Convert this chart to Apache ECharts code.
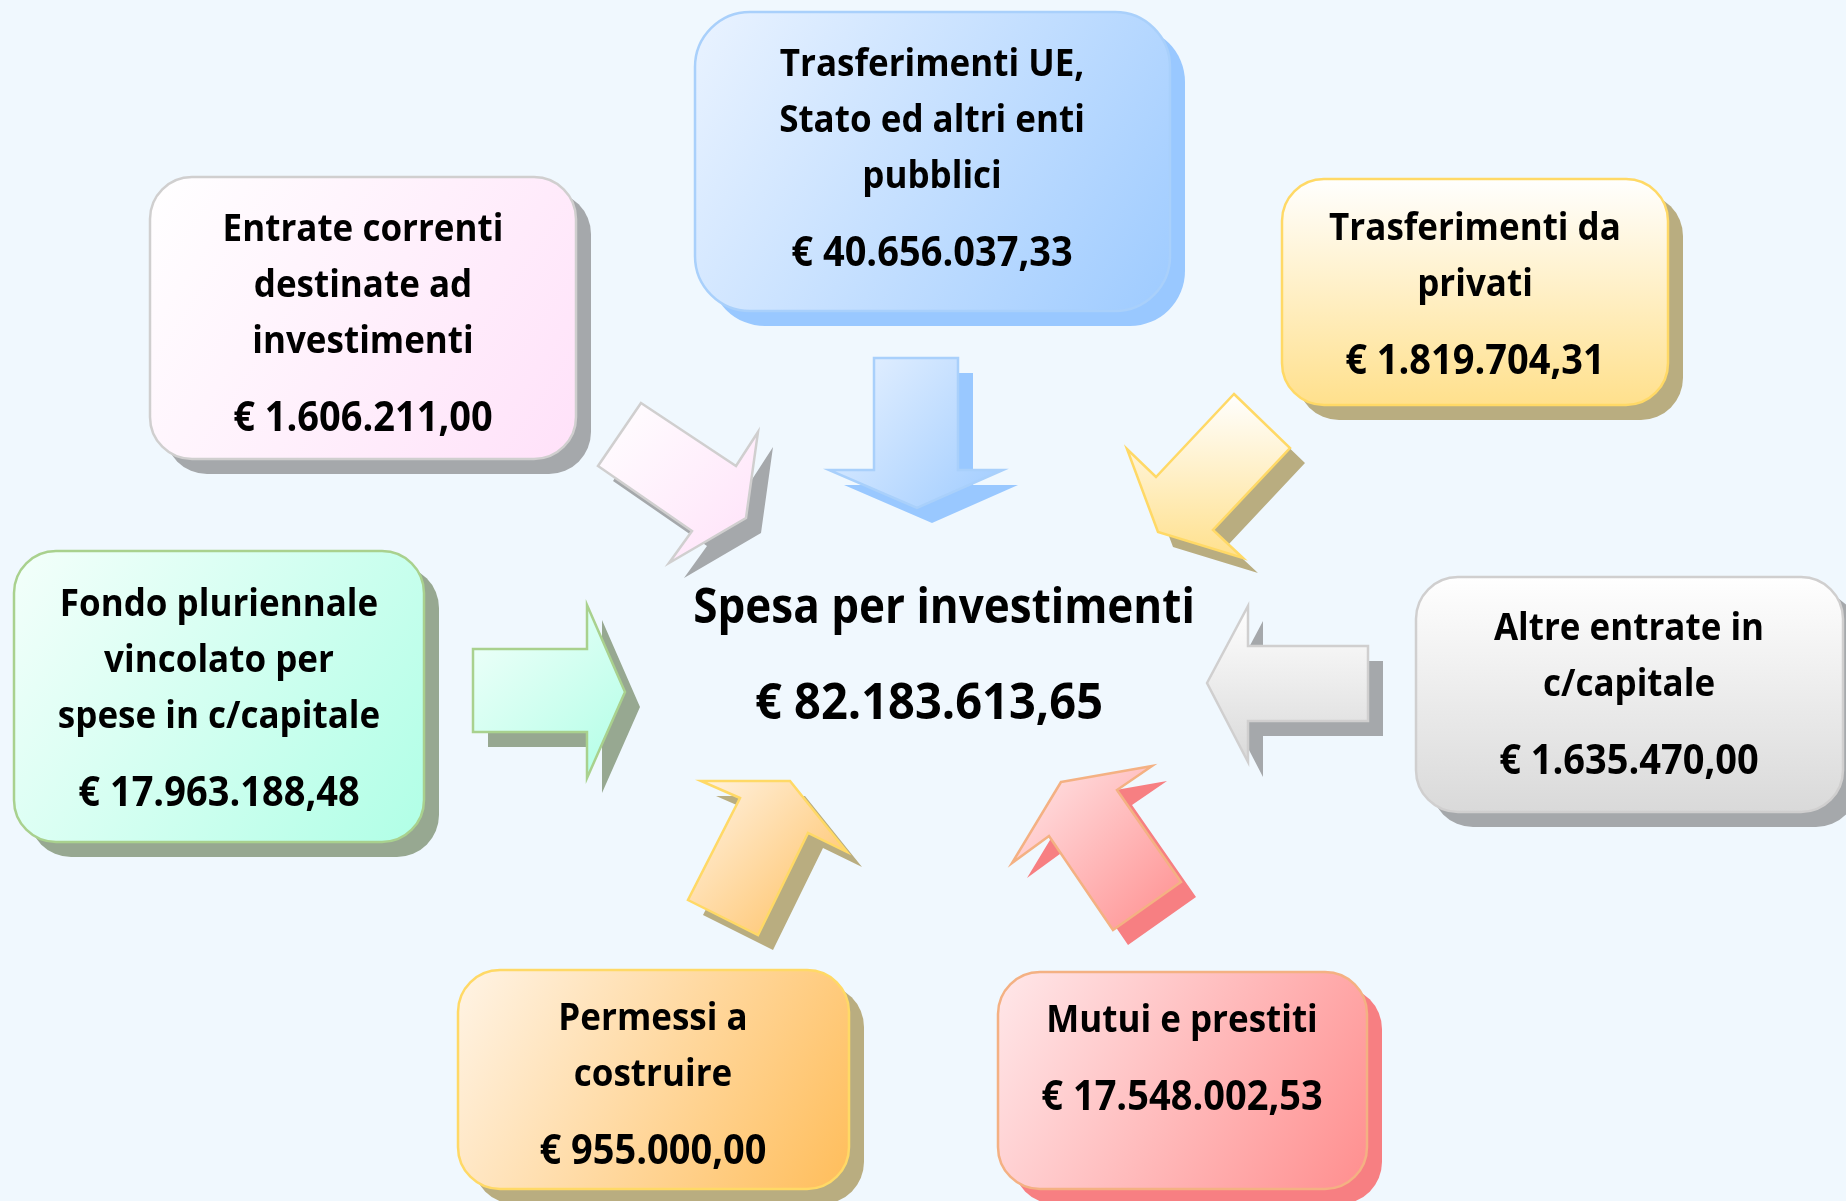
<!DOCTYPE html>
<html>
<head>
<meta charset="utf-8">
<script src="https://cdn.jsdelivr.net/npm/echarts@6/dist/echarts.min.js"></script>
<style>
  html, body { margin: 0; padding: 0; background: #f0f8fe; }
  #chart { width: 1846px; height: 1201px; }
</style>
</head>
<body>
<div id="chart"></div>
<script>
// sources of the investment spending
const sources = [
  'Entrate correnti\ndestinate ad\ninvestimenti',
  'Trasferimenti UE,\nStato ed altri enti\npubblici',
  'Trasferimenti da\nprivati',
  'Altre entrate in\nc/capitale',
  'Mutui e prestiti',
  'Permessi a\ncostruire',
  'Fondo pluriennale\nvincolato per\nspese in c/capitale'
];
const amounts = [1606211.00, 40656037.33, 1819704.31, 1635470.00, 17548002.53, 955000.00, 17963188.48];
const totalName = 'Spesa per investimenti';
const totalAmount = 82183613.65;

// diagram layout, in canvas units (0..1846 x 0..1201)
const LAYOUT = [
  { box: [150, 177, 426, 282], r: 42, text: [363, 230], dir: 'diag',
    colors: ['#ffffff', '#ffe1f9'], stroke: '#d0cfcf', shadow: '#a5a8ab',
    arrow: [[641, 403], [736, 466], [758, 432], [746, 518], [669, 563], [692, 531], [598, 466]] },
  { box: [695, 12, 475, 299], r: 55, text: [932, 65], dir: 'diag',
    colors: ['#eaf3ff', '#9ecbff'], stroke: '#a9d0fb', shadow: '#99c8ff',
    arrow: [[874, 358], [958, 358], [958, 470], [1003, 470], [917, 508], [829, 470], [874, 470]] },
  { box: [1282, 179, 386, 226], r: 42, text: [1475, 229], dir: 'vert',
    colors: ['#ffffff', '#ffe08c'], stroke: '#ffd966', shadow: '#b9ad80',
    arrow: [[1234, 394], [1290, 448], [1213, 530], [1243, 558], [1158, 532], [1127, 449], [1156, 477]] },
  { box: [1416, 577, 427, 235], r: 42, text: [1629, 629], dir: 'vert',
    colors: ['#ffffff', '#d9d9d9'], stroke: '#d0cfcf', shadow: '#a5a8ab',
    arrow: [[1207, 683], [1248, 606], [1248, 646], [1368, 646], [1368, 721], [1248, 721], [1248, 762]] },
  { box: [998, 972, 369, 217], r: 42, text: [1182, 1021], dir: 'diag',
    colors: ['#ffe8ea', '#ff8e8e'], stroke: '#f4b183', shadow: '#f77f82',
    arrow: [[1061, 782], [1152, 766], [1117, 790], [1181, 882], [1113, 930], [1049, 836], [1012, 863]] },
  { box: [458, 970, 391, 219], r: 42, text: [653, 1019], dir: 'diag',
    colors: ['#fff4e6', '#ffbd5a'], stroke: '#ffd966', shadow: '#b9ad80',
    arrow: [[740, 798], [701, 781], [790, 781], [847, 852], [808, 833], [758, 935], [688, 900]] },
  { box: [14, 551, 410, 291], r: 42, text: [219, 605], dir: 'diag',
    colors: ['#f4fffb', '#b0ffe6'], stroke: '#a9d18e', shadow: '#97a891',
    arrow: [[473, 649], [587, 649], [587, 605], [625, 692], [587, 778], [587, 732], [473, 732]] }
];
const SHADOW_DX = 15, SHADOW_DY = 15;
const LINE_GAP = 56, VALUE_GAP = 77;
const FONT = 'Open Sans';

function formatEuro(v) {
  const parts = v.toFixed(2).split('.');
  const intPart = parts[0].replace(/\B(?=(\d{3})+(?!\d))/g, '.');
  return '€ ' + intPart + ',' + parts[1];
}

function gradient(dir, colors) {
  return new echarts.graphic.LinearGradient(0, 0, dir === 'vert' ? 0 : 1, 1, [
    { offset: 0, color: colors[0] },
    { offset: 1, color: colors[1] }
  ]);
}

function label(text, x, y, size) {
  return { type: 'text', x: x, y: y, scaleY: 1.08, style: {
    text: text, x: 0, y: 0, align: 'center', verticalAlign: 'middle',
    fontFamily: FONT, fontWeight: 'bold', fontSize: size, fill: '#000' } };
}

function renderSource(params, api) {
  const i = params.dataIndex;
  const L = LAYOUT[i];
  const tl = api.coord([L.box[0], L.box[1]]);
  const size = api.size([L.box[2], L.box[3]]);
  const pts = L.arrow.map(p => api.coord(p));
  const shadowPts = pts.map(p => [p[0] + SHADOW_DX, p[1] + SHADOW_DY]);

  const children = [
    { type: 'rect', shape: { x: tl[0] + SHADOW_DX, y: tl[1] + SHADOW_DY, width: size[0], height: size[1], r: L.r },
      style: { fill: L.shadow } },
    { type: 'rect', shape: { x: tl[0], y: tl[1], width: size[0], height: size[1], r: L.r },
      style: { fill: gradient(L.dir, L.colors), stroke: L.stroke, lineWidth: 2.5 } },
    { type: 'polygon', shape: { points: shadowPts }, style: { fill: L.shadow } },
    { type: 'polygon', shape: { points: pts }, style: { fill: gradient(L.dir, L.colors), stroke: L.stroke, lineWidth: 2.5 } }
  ];

  const lines = sources[i].split('\n');
  const t0 = api.coord(L.text);
  lines.forEach((line, k) => {
    children.push(label(line, t0[0], t0[1] + k * LINE_GAP, 35));
  });
  children.push(label(formatEuro(api.value(1)), t0[0], t0[1] + (lines.length - 1) * LINE_GAP + VALUE_GAP, 38));

  return { type: 'group', children: children };
}

function renderTotal(params, api) {
  const a = api.coord([944, 609]);
  const b = api.coord([929, 705]);
  return { type: 'group', children: [
    label(totalName, a[0], a[1], 44),
    label(formatEuro(api.value(0)), b[0], b[1], 47)
  ] };
}

const chart = echarts.init(document.getElementById('chart'), null, { renderer: 'canvas' });
chart.setOption({
  backgroundColor: '#f0f8fe',
  animation: false,
  grid: { left: 0, right: 0, top: 0, bottom: 0 },
  xAxis: { type: 'value', min: 0, max: 1846, show: false },
  yAxis: { type: 'value', min: 0, max: 1201, inverse: true, show: false },
  series: [
    {
      type: 'custom',
      renderItem: renderSource,
      data: sources.map((s, i) => [i, amounts[i]]),
      encode: { x: -1, y: -1 }
    },
    {
      type: 'custom',
      renderItem: renderTotal,
      data: [[totalAmount]],
      encode: { x: -1, y: -1 }
    }
  ]
});
</script>
</body>
</html>
